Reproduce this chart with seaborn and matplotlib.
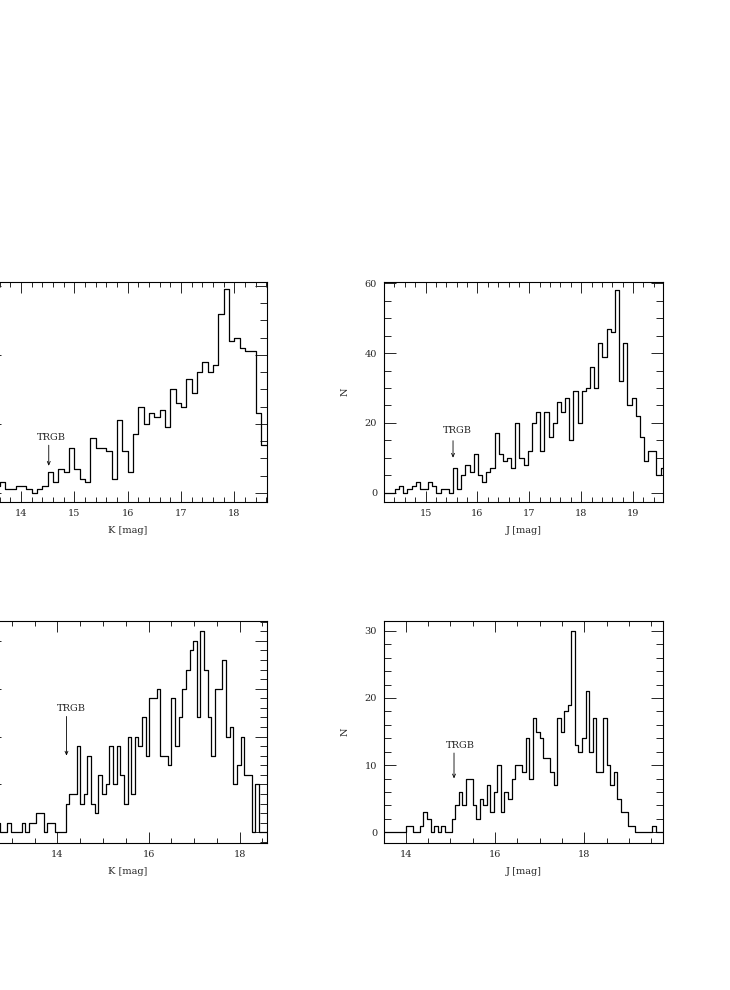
import matplotlib
matplotlib.use("Agg")
import matplotlib.pyplot as plt
from matplotlib.ticker import MultipleLocator
import seaborn as sns
import numpy as np
import pandas as pd

# luminosity functions, counts per bin
# top left: K band, 0.1 mag bins
k1_start = 13.4
k1_width = 0.1
k1_counts = [1, 2, 3, 1, 1, 2, 2, 1, 0, 1, 2, 6, 3, 7, 6, 13, 7, 4, 3, 16,
             13, 13, 12, 4, 21, 12, 6, 17, 25, 20, 23, 22, 24, 19, 30, 26, 25, 33, 29, 35,
             38, 35, 37, 52, 59, 44, 45, 42, 41, 41, 23, 14, 14]

# top right: J band
j1_start = 14.17
j1_width = 0.08
j1_counts = [0, 0, 0, 1, 2, 0, 1, 2, 3, 1, 1, 3, 2, 0, 1, 1, 0, 7, 1, 5,
             8, 6, 11, 5, 3, 6, 7, 17, 11, 9, 10, 7, 20, 10, 8, 12, 20, 23, 12, 23,
             16, 20, 26, 23, 27, 15, 29, 20, 29, 30, 36, 30, 43, 39, 47, 46, 58, 32, 43, 25,
             27, 22, 16, 9, 12, 12, 5, 7]

# bottom left: K band
k2_start = 12.42
k2_width = 0.08
k2_counts = [1, 0, 0, 1, 0, 0,
             1, 0, 0, 0, 1, 0, 1, 1, 2, 2, 0, 1, 1, 0, 0, 0, 3, 4, 4, 9,
             3, 4, 8, 3, 2, 6, 4, 5, 9, 5, 9, 6, 3, 10, 4, 10, 9, 12, 8, 14,
             14, 15, 8, 8, 7, 14, 9, 12, 15, 17, 19, 20, 12, 21, 17, 12, 8, 15, 15, 18,
             10, 11, 5, 7, 10, 6, 6, 0, 5, 0, 0, 0]

# bottom right: J band
j2_start = 13.447
j2_width = 0.079
j2_counts = [0, 0, 0, 0, 0, 0, 0,
             1, 1, 0, 0, 1, 3, 2, 0, 1, 0, 1, 0, 0, 2, 4, 6, 4, 8, 8, 4,
             2, 5, 4, 7, 3, 6, 10, 3, 6, 5, 8, 10, 10, 9, 14, 8, 17, 15, 14, 11,
             11, 9, 7, 17, 15, 18, 19, 30, 13, 12, 14, 21, 12, 17, 9, 9, 17, 10, 7, 9,
             5, 3, 3, 1, 1, 0, 0, 0, 0, 0, 1, 0, 0, 0]

# TRGB marks: x, arrow tip, arrow tail, label x, label y
trgb_k1 = (14.52, 7.8, 13.8, 14.56, 15.9)
trgb_j1 = (15.53, 10.0, 14.9, 15.62, 17.9)
trgb_k2 = (14.20, 8.0, 12.1, 14.30, 12.9)
trgb_j2 = (15.08, 8.0, 11.8, 15.22, 12.9)

sns.set_style("ticks")
plt.rcParams["font.family"] = ["DejaVu Serif"]
plt.rcParams["font.size"] = 7

fig = plt.figure(figsize=(7.3, 9.9), dpi=100)


def lf_panel(rect, start, width, counts, xlim, ylim, xmaj, xmin, ymaj, ymin, xlab, trgb,
             show_y=True):
    ax = fig.add_axes(rect)
    n = len(counts)
    edges = [start + width * i for i in range(n + 1)]
    df = pd.DataFrame({"mag": start + width * (np.arange(n) + 0.5), "n": counts})
    sns.histplot(data=df, x="mag", weights="n", bins=edges, element="step",
                 fill=False, color="black", linewidth=0.9, ax=ax)
    ax.set_xlim(*xlim)
    ax.set_ylim(*ylim)
    ax.xaxis.set_major_locator(MultipleLocator(xmaj))
    ax.xaxis.set_minor_locator(MultipleLocator(xmin))
    ax.yaxis.set_major_locator(MultipleLocator(ymaj))
    ax.yaxis.set_minor_locator(MultipleLocator(ymin))
    ax.tick_params(which="both", direction="in", top=True, right=True,
                   width=0.7, labelsize=7, pad=5, labelleft=show_y)
    ax.tick_params(axis="x", which="major", length=8)
    ax.tick_params(axis="x", which="minor", length=3.8)
    ax.tick_params(axis="y", which="major", length=8.6)
    ax.tick_params(axis="y", which="minor", length=5)
    for s in ax.spines.values():
        s.set_linewidth(0.8)
        s.set_color("black")
    ax.set_xlabel(xlab, fontsize=7)
    ax.xaxis.set_label_coords(0.5, -0.11)
    # left column is cut by the page edge, its y labels are not visible
    if show_y:
        ax.set_ylabel("N", fontsize=7)
        ax.yaxis.set_label_coords(-0.125, 0.5)
    else:
        ax.set_ylabel("")
    x, tip, tail, tx, ty = trgb
    ax.annotate("", xy=(x, tip), xytext=(x, tail),
                arrowprops=dict(arrowstyle="->,head_length=0.35,head_width=0.15",
                                color="black", lw=0.6, shrinkA=0, shrinkB=0))
    ax.text(tx, ty, "TRGB", ha="center", va="center", fontsize=7)
    return ax


W, H = 730.0, 990.0
lf_panel([-11 / W, (H - 501.7) / H, 278 / W, 220 / H], k1_start, k1_width, k1_counts,
         (13.4, 18.61), (-2.6, 61.25), 1, 0.2, 20, 5, "K [mag]", trgb_k1, show_y=False)
lf_panel([384 / W, (H - 501.7) / H, 278.7 / W, 220 / H], j1_start, j1_width, j1_counts,
         (14.2, 19.57), (-2.58, 60.46), 1, 0.2, 20, 5, "J [mag]", trgb_j1)
lf_panel([-11 / W, (H - 843) / H, 278 / W, 222.3 / H], k2_start, k2_width, k2_counts,
         (12.5, 18.6), (-1.12, 22.1), 2, 0.5, 5, 1, "K [mag]", trgb_k2, show_y=False)
lf_panel([384 / W, (H - 843) / H, 278.7 / W, 222.3 / H], j2_start, j2_width, j2_counts,
         (13.51, 19.76), (-1.6, 31.5), 2, 0.5, 10, 2, "J [mag]", trgb_j2)

fig.savefig("out.png", dpi=100)
